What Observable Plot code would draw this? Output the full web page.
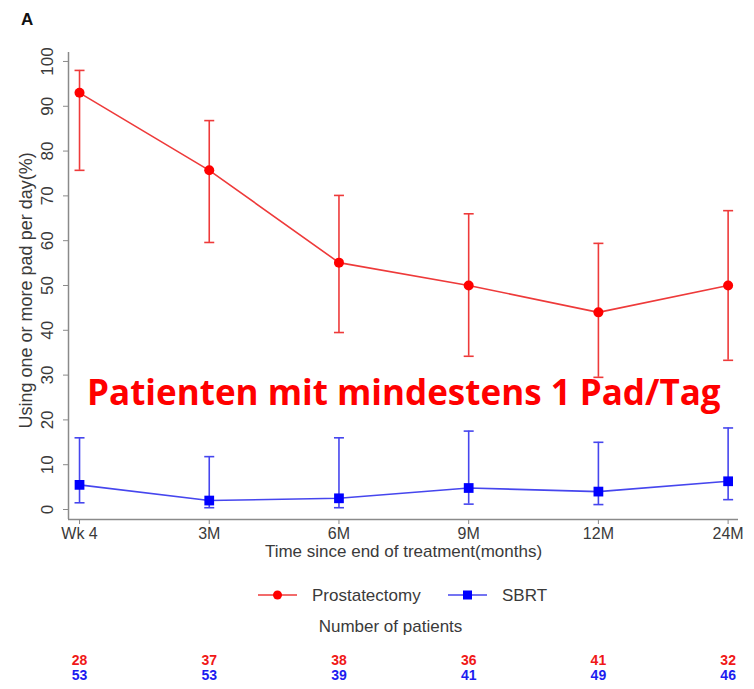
<!DOCTYPE html>
<html><head><meta charset="utf-8">
<script src="https://cdn.jsdelivr.net/npm/d3@7"></script>
<script src="https://cdn.jsdelivr.net/npm/@observablehq/plot@0.6"></script>
<style>
body{margin:0;background:#fff;}
#wrap{position:relative;width:754px;height:689px;font-family:"Liberation Sans",Arial,sans-serif;}
#panel{position:absolute;left:21px;top:10px;font-weight:bold;font-size:17px;color:#111;}
#chart{position:absolute;left:0;top:0;}
</style></head><body><div id="wrap"><div id="chart"></div><div id="panel">A</div></div>
<script>
const timepoints = ["Wk 4","3M","6M","9M","12M","24M"];
const seriesNames = ["Prostatectomy","SBRT"];
const prostMean = [93, 75.7, 55.1, 50, 44, 50];
const prostLow  = [75.7, 59.6, 39.5, 34.2, 29.5, 33.3];
const prostHigh = [98, 86.8, 70.1, 66, 59.4, 66.7];
const sbrtMean = [5.5, 2, 2.5, 4.8, 4, 6.3];
const sbrtLow  = [1.5, 0.4, 0.4, 1.2, 1.1, 2.2];
const sbrtHigh = [16, 11.8, 16, 17.5, 15, 18.2];
const prostN = [28, 37, 38, 36, 41, 32];
const sbrtN  = [53, 53, 39, 41, 49, 46];
const yTicks = [0,10,20,30,40,50,60,70,80,90,100];
const yTitle = "Using one or more pad per day(%)";
const xTitle = "Time since end of treatment(months)";
const nTitle = "Number of patients";
const annotation = "Patienten mit mindestens 1 Pad/Tag";

const rows = [];
timepoints.forEach((t, i) => {
  rows.push({i, t, series: seriesNames[0], mean: prostMean[i], lo: prostLow[i], hi: prostHigh[i], n: prostN[i]});
  rows.push({i, t, series: seriesNames[1], mean: sbrtMean[i], lo: sbrtLow[i], hi: sbrtHigh[i], n: sbrtN[i]});
});
const prostRows = rows.filter(d => d.series === seriesNames[0]);
const sbrtRows = rows.filter(d => d.series === seriesNames[1]);

const lineColors = ["#ee3a3a", "#4646ee"];
const pointColors = ["#ff0000", "#0000ff"];
const numColors = ["#f01818", "#1c1cf0"];
const capSymbol = { draw(ctx, size) { const w = 5; ctx.moveTo(-w, 0); ctx.lineTo(w, 0); } };

const xMin = -0.085, xMax = 5.08, yMin = -2.23, yMax = 102;
const textColor = "#3a3a3a";

const plot = Plot.plot({
  width: 754, height: 689,
  marginLeft: 68, marginRight: 16, marginTop: 52, marginBottom: 170,
  style: {fontFamily: "'Liberation Sans', Arial, sans-serif", fontSize: "17px", color: textColor, background: "transparent"},
  x: {domain: [xMin, xMax]},
  y: {domain: [yMin, yMax]},
  color: {domain: seriesNames, range: lineColors},
  marks: [
    Plot.ruleX([xMin], {stroke: "#8a8a8a", strokeWidth: 1.5}),
    Plot.ruleY([yMin], {stroke: "#8a8a8a", strokeWidth: 1.5}),
    Plot.axisY({ticks: yTicks, tickSize: 5, label: null, stroke: "#8a8a8a", text: null}),
    Plot.axisY({ticks: yTicks, tickSize: 0, tickRotate: -90, tickPadding: 4, dx: -12, label: null, fill: textColor, fontSize: 17}),
    Plot.axisX({ticks: [0,1,2,3,4,5], tickFormat: i => timepoints[i], tickSize: 5, tickPadding: 3, label: null, stroke: "#8a8a8a", fill: textColor, fontSize: 16}),
    Plot.ruleX(rows, {x: "i", y1: "lo", y2: "hi", stroke: "series", strokeWidth: 1.6}),
    Plot.dot(rows, {x: "i", y: "lo", stroke: "series", symbol: () => capSymbol, fill: "none", r: 5, strokeWidth: 1.6}),
    Plot.dot(rows, {x: "i", y: "hi", stroke: "series", symbol: () => capSymbol, fill: "none", r: 5, strokeWidth: 1.6}),
    Plot.line(rows, {x: "i", y: "mean", z: "series", stroke: "series", strokeWidth: 1.6}),
    Plot.dot(prostRows, {x: "i", y: "mean", fill: pointColors[0], r: 5}),
    Plot.dot(sbrtRows, {x: "i", y: "mean", fill: pointColors[1], symbol: "square", r: 5.5}),
    Plot.text([yTitle], {frameAnchor: "left", textAnchor: "middle", y: () => 48.9, rotate: -90, dx: -42, fill: textColor, fontSize: 18}),
    Plot.text([xTitle], {frameAnchor: "bottom", dy: 37, fill: textColor, fontSize: 17}),
    Plot.text([nTitle], {frameAnchor: "bottom", dy: 112, dx: -13, fill: textColor, fontSize: 17}),
    Plot.text(prostRows, {x: "i", text: "n", frameAnchor: "bottom", dy: 145, fill: numColors[0], fontSize: 14, fontWeight: "bold"}),
    Plot.text(sbrtRows, {x: "i", text: "n", frameAnchor: "bottom", dy: 160, fill: numColors[1], fontSize: 14, fontWeight: "bold"}),
    Plot.text([annotation], {x: () => 2.5, y: () => 25.9, fill: "#ff0000", fontSize: 35, fontWeight: "bold", fontFamily: "'Open Sans', Lato, sans-serif"})
  ]
});
document.getElementById("chart").appendChild(plot);

// legend
const svg = d3.select(plot);
const lg = svg.append("g").attr("font-family", "'Liberation Sans', Arial, sans-serif").attr("font-size", 17).attr("fill", textColor).attr("text-anchor", "start");
const legendItems = [
  {name: seriesNames[0], x: 258, line: lineColors[0], pt: pointColors[0], sym: "circle"},
  {name: seriesNames[1], x: 448, line: lineColors[1], pt: pointColors[1], sym: "square"}
];
legendItems.forEach(d => {
  lg.append("line").attr("x1", d.x).attr("x2", d.x + 39).attr("y1", 595).attr("y2", 595).attr("stroke", d.line).attr("stroke-width", 1.6);
  if (d.sym === "circle") lg.append("circle").attr("cx", d.x + 19.5).attr("cy", 595).attr("r", 4.5).attr("fill", d.pt);
  else lg.append("rect").attr("x", d.x + 15).attr("y", 590.5).attr("width", 9).attr("height", 9).attr("fill", d.pt);
  lg.append("text").attr("x", d.x + 54).attr("y", 595).attr("dy", "0.35em").text(d.name);
});
</script></body></html>
